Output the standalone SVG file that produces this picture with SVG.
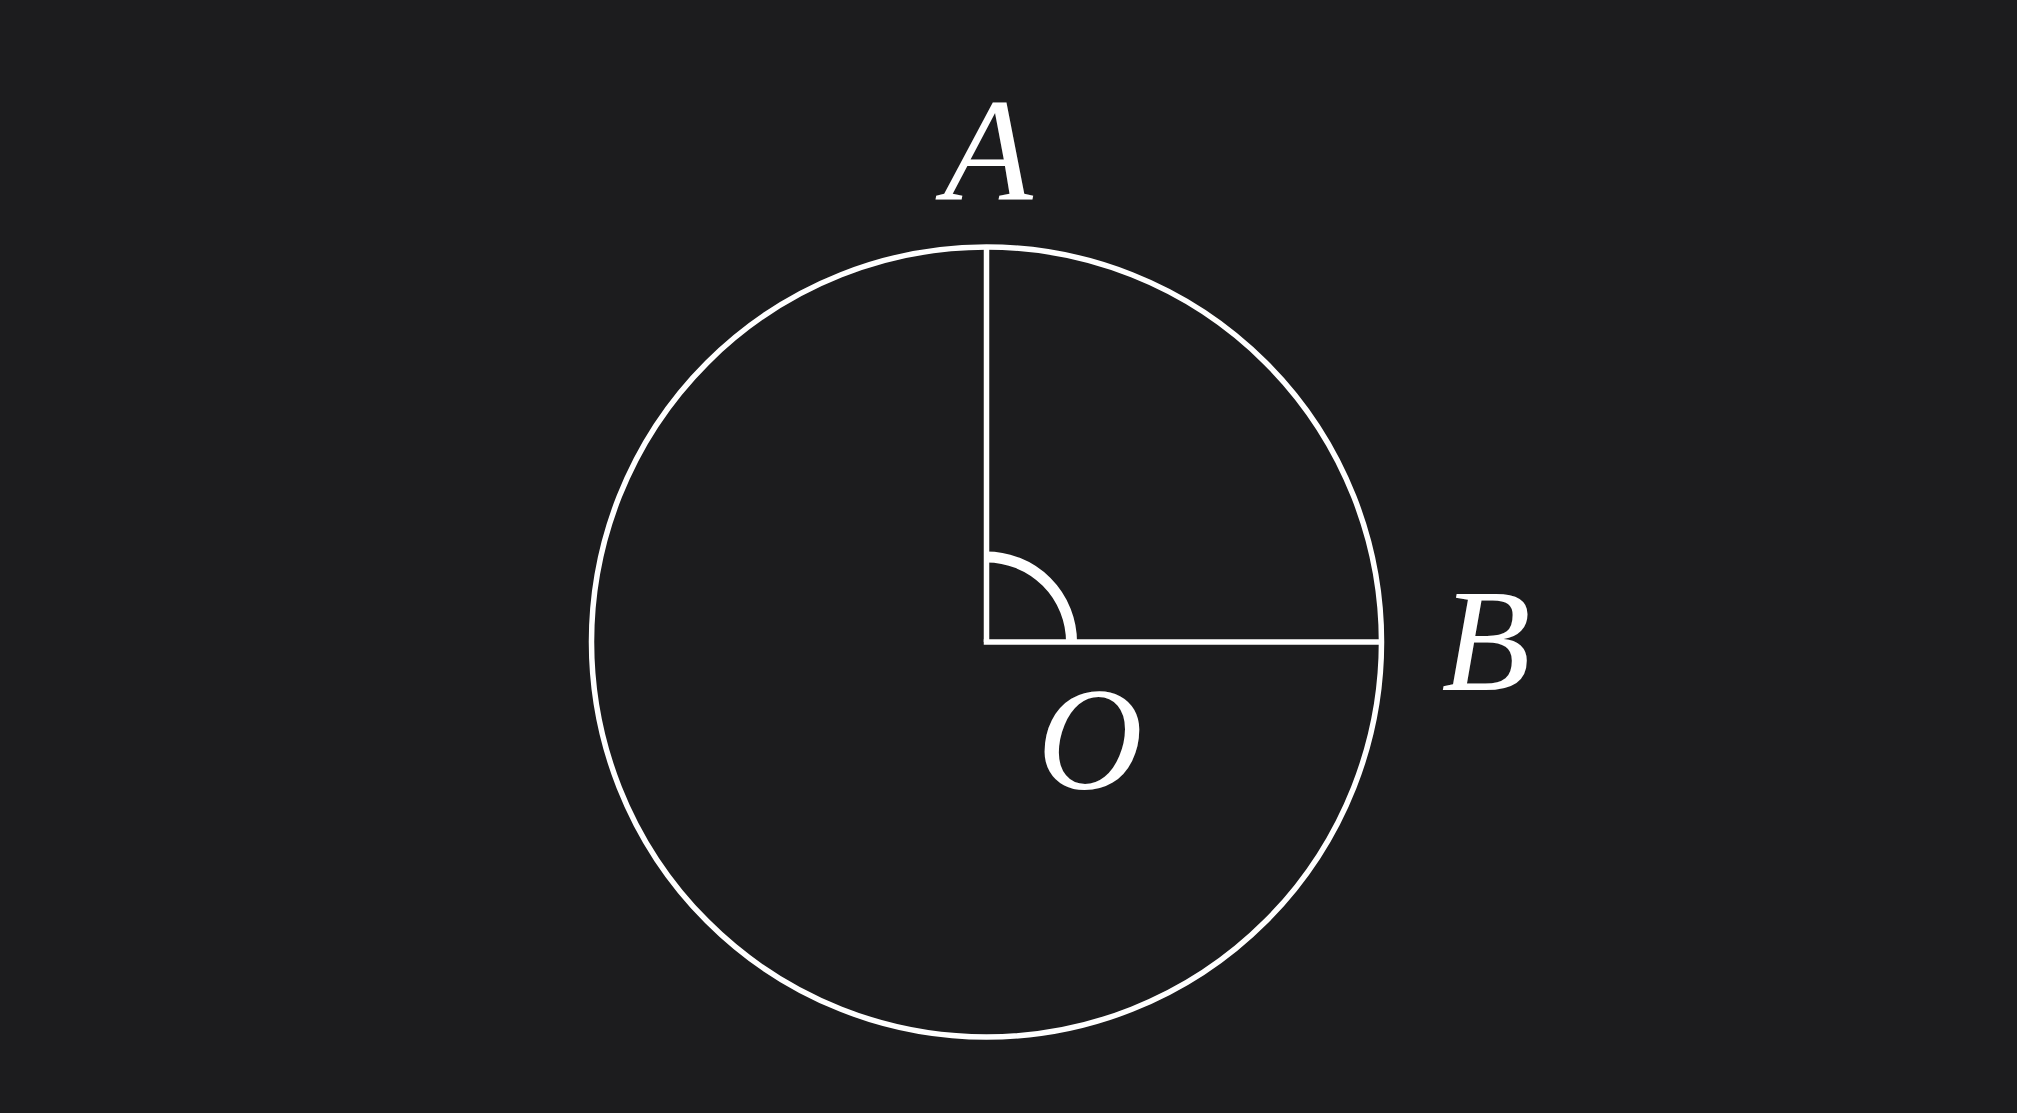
<svg xmlns="http://www.w3.org/2000/svg" width="2017" height="1113" viewBox="0 0 2017 1113">
<style>
.ln{stroke:#ffffff;fill:none;stroke-width:5.5}
.lbl{font-size:146px;fill:#ffffff;text-anchor:middle;font-style:italic}
</style>
<rect width="2017" height="1113" fill="#1c1c1e"/>
<g id="circle"><circle class="ln" cx="986.5" cy="642" r="395"/></g>
<g id="connectors">
<line class="ln" x1="986.5" y1="642" x2="986.5" y2="247"/>
<line class="ln" x1="983.75" y1="642" x2="1381.5" y2="642"/>
<path class="ln" d="M986.5 557 A85 85 0 0 1 1071.5 642" style="stroke-width:11"/>
</g>
<g id="A"><text class="lbl" font-family="Liberation Serif, serif" x="988" y="199">A</text></g>
<g id="B"><text class="lbl" font-family="Liberation Serif, serif" x="1486" y="690">B</text></g>
<g id="O"><text class="lbl" font-family="Liberation Serif, serif" x="1090" y="789">O</text></g>
</svg>
